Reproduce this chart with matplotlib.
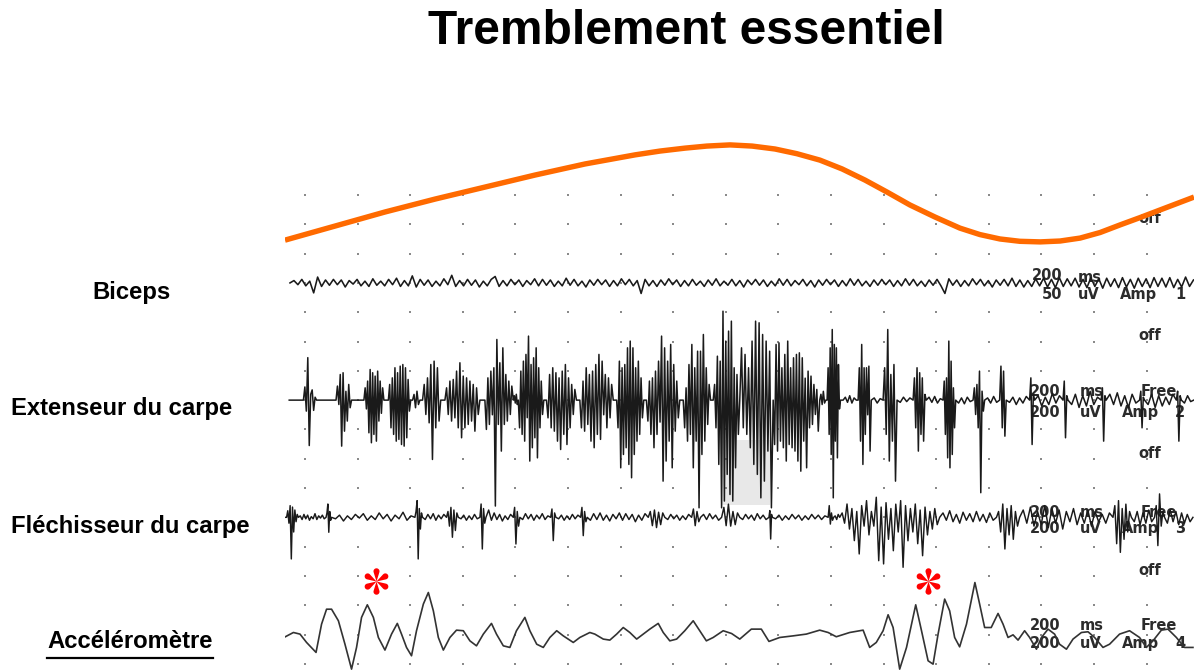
import numpy as np
import matplotlib
matplotlib.use("Agg")
import matplotlib.pyplot as plt
from matplotlib.path import Path
from matplotlib.patches import Rectangle
from matplotlib.lines import Line2D

# ---------------- data (time in ms, amplitude in uV) ----------------
title = "Tremblement essentiel"
channel_labels = ["Biceps", "Extenseur du carpe", "Fléchisseur du carpe", "Accéléromètre"]

# Biceps EMG, 50 uV/div, sampled every 15 ms starting at -57 ms
biceps_t0, biceps_dt = -57, 15
biceps_uv = [0, 4, -3, 6, -5, 3, -17, 10, -6, 5,
             -4, 6, -3, 5, -7, 4, -2, 6, -5, 3,
             -6, 7, -4, 3, -5, 6, -3, 8, -6, 4,
             -5, 12, -7, 6, -4, 5, -6, 3, -5, 7,
             -3, 13, -6, 4, -5, 6, -4, 5, -7, 3,
             -5, 6, 11, -6, 4, -5, 6, -3, 5, -6,
             4, -3, 7, -5, 6, -4, 5, -6, 3, -5,
             8, -4, 6, -5, 3, -7, 5, -4, 6, -3,
             5, -6, 4, -5, 7, -3, 6, -5, 4, -18,
             6, -5, 4, -6, 5, -4, 7, -3, 5, -6,
             4, -5, 6, -4, 3, -6, 5, -4, 7, -5,
             3, -4, 6, -5, 4, -7, 5, -3, 6, -4,
             5, -6, 3, -5, 7, -4, 6, -5, 4, -3,
             6, -5, 4, -7, 5, -4, 6, -3, 5, -6,
             4, -5, 7, -4, 6, -5, 3, -6, 5, -4,
             6, -3, 5, -6, 4, -5, 7, -4, 6, -5,
             3, -6, 5, -4, 6, -5, -18, 7, -4, 5,
             -6, 4, -5, 7, -3, 6, -5, 4, -7, 5,
             -4, 6, -5, 8, -6, 5, -7, 4, -6, 7,
             -5, 8, -7, 6, -8, 9, -6, 7, -5, 8,
             -7, 6, -8, 9, -6, 7, -9, 8, -6, 7,
             -8, 9, -7, 6, -9, 8, -6, 7, -8, 9,
             -6, 8, -7, 9, -8, 6, -7, 10, -6, 5]

# Extensor EMG bursts, 200 uV/div: (start ms, end ms, successive extrema uV)
extensor_span = (-60, 3379)
extensor_bursts = [
    (-6, 44, [90, -75, 290, -310, 40, 70, -70, 20]),
    (118, 177, [96, -30, 175, -314, 187, -212, 60, -143, 107, -52]),
    (224, 300, [84, -60, 130, -223, 209, -291, 187, -234, 164, -280, 198, -143, 130, -90, 84]),
    (317, 402, [107, -189, 152, -234, 221, -280, 187, -268, 232, -303, 243, -314, 221, -257, 141, -75]),
    (409, 437, [39, -52, 61, -30]),
    (447, 516, [107, -98, 152, -155, 243, -405, 266, -189, 221, -143]),
    (532, 665, [84, -98, 130, -143, 141, -121, 198, -189, 255, -257, 164, -189, 152, -166, 130, -143, 107, -212, 84, -98]),
    (684, 792, [-200, 152, -166, 198, -100, 221, -723, 414, -166, 255, -348, 357, -166, 175, -143, 130, -98, 96]),
    (792, 811, [30, -20, 40, -30]),
    (811, 908, [-189, 198, -234, 266, -280, 312, -120, 437, -416, 243, -325, 289, -257, 357, -394, 221, -189, 130, -98]),
    (918, 1032, [-121, 175, -189, 221, -212, 187, -280, 152, -337, 198, -234, 243, -303, 152, -189, 107, -98, 73]),
    (1045, 1172, [-189, 130, -212, 221, -166, 175, -280, 198, -325, 243, -234, 312, -268, 266, -100, 175, -189, 152, -121, 107]),
    (1185, 1288, [-189, 266, -462, 221, -371, 243, -325, 357, -439, 403, -530, 357, -371, 221, -280, 266, -234, 152, -121]),
    (1298, 1425, [-143, 130, -234, 152, -325, 198, -234, 266, -150, 437, -553, 357, -416, 266, -280, 380, -462, 243, -212, 130, -121]),
    (1438, 1542, [-189, 84, -280, 243, -234, 380, -462, 221, -280, 334, -735, 334, -371, 448, -280, 221, -166, 107]),
    (1552, 1653, [107, -189, 300, -439, 266, -735, 607, -689, 403, -507, 471, -644, 539, -689, 221, -462, 175, -234]),
    (1653, 1780, [357, -189, 312, -234, 221, -325, 403, -439, 539, -507, 528, -667, 448, -553, 403, -348, 334, -735]),
    (1780, 1957, [-303, 380, -348, 391, -280, 221, -325, 312, -416, 403, -303, 221, -325, 289, -348, 312, -416, 323, -485, 289, -280, 150, -462, 198, -189, 164, -166, 107, -98, 73, -212]),
    (1957, 1980, [40, -30, 60, -20]),
    (1985, 2036, [221, -234, 357, -371, 482, -667, 380, -280, 357, -394, 243, -60]),
    (2046, 2096, [20, -15, 30, -20, 15]),
    (2103, 2153, [221, -280, 380, -439, 221, -234, 221, -100, 232, -348]),
    (2153, 2198, [15, -20, 10]),
    (2198, 2251, [221, -234, 482, -416, 175, -280, 243, -553]),
    (2251, 2312, [-15, 20, -10, 15]),
    (2312, 2362, [152, -189, 221, -348, 187, -234, 152, -280, 39]),
    (2362, 2426, [20, -15, 25, -20, 10]),
    (2426, 2474, [130, -234, 152, -394, 403, -462, 266, -371, 84, -189]),
    (2474, 2540, [-20, 15, -25, 20, -10]),
    (2540, 2584, [84, -98, 107, -189, 198, -632, 61, -75]),
    (2584, 2641, [15, -20, 25, -15]),
    (2641, 2666, [232, -189, 198, -246]),
    (2666, 2755, [-15, 20, -30, 15, -20, 25]),
    (2755, 2774, [152, -303, 40]),
    (2774, 2882, [30, -40, 20, -30, 45, -20, 30]),
    (2882, 2901, [130, -257, 30]),
    (2901, 3027, [-30, 40, -50, 30, -40, 60, -30, 20]),
    (3027, 3046, [84, -280, 30]),
    (3046, 3173, [40, -30, 50, -40, 30, -50, 40, -20]),
    (3173, 3192, [61, -189, 20]),
    (3192, 3313, [-30, 40, -50, 30, -40, 20, -30, 40]),
    (3313, 3332, [61, -280, 30]),
    (3332, 3379, [-20, 30, -10]),
]

# Flexor EMG, 200 uV/div
flexor_span = (-75, 3376)
flexor_bursts = [
    (-70, -25, [45, -40, 80, -284, 70, -100, 50, -30, 20]),
    (-25, 80, [10, -15, 20, -10, 15, -20, 5, -10, 25, -15, 10, -5, 15, -10]),
    (80, 101, [30, 91, -102, 40, -20]),
    (101, 418, [-10, 15, -25, 10, -15, 20, -5, 25, -20, 10, -15, 30, -10, 20, -25, 15, -10, 35, -20, 10]),
    (418, 447, [40, 114, -284, 60, -80, 30]),
    (447, 538, [-15, 20, -10, 25, -20, 15, -10, 20]),
    (538, 583, [40, -60, 68, -136, 50, -90, 30]),
    (583, 665, [-10, 15, -20, 10, -15, 20, -10]),
    (665, 688, [91, -216, 60, -40]),
    (688, 792, [50, -20, 30, -15, 20, -25, 10, -15, 20]),
    (792, 817, [68, -182, 40, -60]),
    (817, 934, [-15, 25, -10, 20, -20, 15, -10, 25, -15, 10]),
    (934, 954, [57, -159, 30]),
    (954, 1048, [-10, 15, -20, 10, -15, 20, -10, 15]),
    (1048, 1073, [68, -125, 40, -30]),
    (1073, 1305, [-20, 25, -15, 30, -20, 15, -25, 20, -10, 30, -20, 25, -15, 20, -30, 15, -20, 25]),
    (1305, 1368, [40, -57, 50, -70, 35, -50, 30]),
    (1368, 1470, [-15, 20, -10, 15, -20, 10, -15, 20]),
    (1470, 1504, [57, -57, 40, -30]),
    (1504, 1584, [20, -15, 25, -10, 15, -20]),
    (1584, 1653, [68, -57, 90, -60, 40, -50, 30]),
    (1653, 1764, [-15, 20, -10, 15, -20, 25, -10, 15, -15]),
    (1764, 1777, [46, -148, 20]),
    (1777, 1989, [-10, 15, -20, 10, -15, 20, -10, 15, -20, 10, -15, 20, -10, 15, -15, 10]),
    (1989, 2010, [80, -46, 30, -20]),
    (2010, 2033, [10, -15, 20]),
    (2033, 2413, [30, -40, 91, -80, 60, -159, 40, -250, 80, -60, 114, -120, 40, -60, 137, -296, 70, -318, 100, -150,
                  60, -228, 90, -100, 114, -341, 80, -160, 60, -100, 91, -180, 50, -262, 70, -120, 40, -80, 60, -50]),
    (2413, 2629, [30, -20, 45, -30, 20, -40, 35, -20, 25, -30, 40, -25, 20, -35, 30, -20]),
    (2629, 2717, [40, -100, 91, -216, 60, -120, 80, -150, 40, -60]),
    (2717, 3072, [50, -40, 70, -60, 40, -50, 80, -70, 60, -40, 50, -80, 40, -30, 60, -50, 30, -40, 50, -60, 40, -30, 20, -40, 30]),
    (3072, 3142, [80, -180, 114, -239, 60, -150, 90, -100, 40]),
    (3142, 3230, [-30, 40, -50, 30, -40, 50, -30]),
    (3230, 3268, [80, -193, 160, -60, 40]),
    (3268, 3376, [-40, 50, -30, 40, -50, 30, -40, 20, -30]),
]

# Accelerometer, 200 uV/div
accel_t = [-80, -44, -19, 6, 42, 63, 82, 101, 127, 152, 177, 196, 215, 237, 260, 279, 304, 329, 351, 367,
           386, 405, 424, 450, 469, 488, 507, 526, 551, 576, 602, 627, 652, 678, 709, 728, 754, 779, 804, 836,
           855, 881, 906, 931, 957, 982, 1020, 1045, 1083, 1102, 1134, 1159, 1185, 1210, 1235, 1261, 1286, 1311, 1343, 1362,
           1387, 1413, 1444, 1476, 1501, 1526, 1552, 1590, 1622, 1653,
           1697, 1735, 1764, 1805, 1856, 1906, 1957, 1989, 2020, 2071, 2122, 2147, 2172, 2198, 2217, 2236, 2261, 2287, 2306, 2322,
           2344, 2369, 2388, 2407, 2432, 2451, 2470, 2489, 2515, 2547, 2565, 2584, 2609, 2635, 2654, 2673, 2692, 2711, 2736, 2755,
           2781, 2800, 2825, 2850, 2869, 2895, 2920, 2952, 2977, 3002, 3034, 3059, 3097, 3135, 3173, 3199, 3224, 3256, 3281, 3313,
           3344, 3376]
accel_uv = [0, 34, 23, -34, -102, 91, 193, 193, 114, -46, -216, -68, 137, 223, 137, 0, -86, 23, 96, 23,
            -68, -125, 46, 228, 307, 182, 0, -86, 0, 50, 46, -23, -57, 23, 96, 23, -57, -68, 46, 137,
            46, -46, -68, 0, 46, 11, -34, 0, 34, 23, -11, -18, 23, 68, 34, -11, 23, 57, 96, 34,
            -23, -11, 46, 114, 46, -23, 0, 46, 27, -11,
            57, 57, -27, 0, 11, 23, 50, 34, 5, 34, 50, -68, -34, 46, 155, 68, -216, -68, 91, 223,
            46, -159, -182, 23, 262, 182, 0, -64, 91, 375, 228, 68, 68, 164, 91, 0, 18, -18, 46, 0,
            -80, 0, 57, 23, -46, -80, -11, 34, 39, 0, -68, -46, 23, 46, 0, -68, -23, 50, 57, 0,
            -68, -68]

# Movement (orange) curve, in grid divisions below the top dot row
movement_t = [-76, 114, 304, 494, 684, 874, 1065, 1255, 1350, 1445, 1528, 1616, 1700, 1787, 1870, 1958, 2042, 2129,
              2213, 2300, 2395, 2490, 2566, 2642, 2718, 2795, 2871, 2947, 3023, 3099, 3175, 3251, 3380]
movement_div = [1.54, 1.06, 0.58, 0.14, -0.27, -0.68, -1.06, -1.37, -1.50, -1.60, -1.67, -1.71, -1.67, -1.57, -1.41, -1.19, -0.89, -0.51,
                -0.10, 0.34, 0.75, 1.13, 1.35, 1.50, 1.58, 1.60, 1.57, 1.47, 1.28, 1.02, 0.77, 0.51, 0.07]

# Asterisk markers (time ms)
star_t = [270, 2369]

# Channel settings: baseline row (grid divisions from the top dot row), uV per division
base_rows = {"biceps": 3.0, "extensor": 7.0, "flexor": 11.0, "accel": 15.1}
uv_per_div = {"biceps": 50, "extensor": 200, "flexor": 200, "accel": 200}

# ---------------- figure ----------------
W, H = 1194, 670
fig = plt.figure(figsize=(W / 100, H / 100), dpi=100)
fig.patch.set_facecolor("white")
ax = fig.add_axes([285 / W, 0, (W - 285) / W, 1])
ax.set_xlim(-76, 3380)
ax.set_ylim(-16.21, 6.655)
ax.axis("off")

# dot grid (200 ms x 1 div)
gx, gy = np.meshgrid(np.arange(0, 3201, 200), -np.arange(0, 17))
ax.scatter(gx.ravel(), gy.ravel(), s=1.6, color="#8a8a8a", marker="s", linewidths=0, zorder=1)

# grey scan shading
ax.add_patch(Rectangle((1586, -10.58), 182, 2.22, color="#e8e8e8", zorder=0.5, linewidth=0))


def build(span, bursts):
    ts, vs = [span[0]], [0.0]
    for t0, t1, vals in bursts:
        tt = np.linspace(t0, t1, len(vals) + 2)
        ts += [t0] + list(tt[1:-1]) + [t1]
        vs += [0.0] + list(vals) + [0.0]
    ts.append(span[1]); vs.append(0.0)
    return np.array(ts), np.array(vs)


trace_color = "#1a1a1a"
bt = biceps_t0 + biceps_dt * np.arange(len(biceps_uv))
ax.plot(bt, -base_rows["biceps"] + np.array(biceps_uv) / uv_per_div["biceps"],
        color=trace_color, lw=1.15, zorder=3)

et, ev = build(extensor_span, extensor_bursts)
ax.plot(et, -base_rows["extensor"] + ev / uv_per_div["extensor"], color=trace_color, lw=1.1, zorder=3)

ft, fv = build(flexor_span, flexor_bursts)
ax.plot(ft, -base_rows["flexor"] + fv / uv_per_div["flexor"], color=trace_color, lw=1.05, zorder=3)

ax.plot(accel_t, -base_rows["accel"] + np.array(accel_uv) / uv_per_div["accel"],
        color="#333333", lw=1.2, zorder=3)

# orange movement curve
ax.plot(movement_t, -np.array(movement_div), color="#ff6a00", lw=3.9, zorder=5,
        solid_joinstyle="round", solid_capstyle="butt")

# red asterisks (six teardrop petals)
verts, codes = [], []
for k in range(6):
    a = np.pi / 2 + k * np.pi / 3
    ph = np.linspace(-1.9, 1.9, 14)
    px = np.concatenate([[0.0], 0.74 + 0.22 * np.cos(ph), [0.0]])
    py = np.concatenate([[0.0], 0.22 * np.sin(ph), [0.0]])
    rx = px * np.cos(a) - py * np.sin(a)
    ry = px * np.sin(a) + py * np.cos(a)
    verts += list(zip(rx, ry))
    codes += [Path.MOVETO] + [Path.LINETO] * (len(rx) - 2) + [Path.CLOSEPOLY]
star_path = Path(verts, codes)
ax.plot(star_t, [-13.17] * len(star_t), linestyle="none", marker=star_path, markersize=19,
        color="#ff0000", markeredgewidth=0, zorder=6)

# recorder annotations
mono = dict(fontfamily="DejaVu Sans", fontweight="bold", fontsize=10.5, color="#2b2b2b",
            ha="center", va="center", zorder=2)
off_rows = [0.785, 4.78, 8.81, 12.80]
for r in off_rows:
    ax.text(3213, -r, "off", **mono)
# biceps
ax.text(2820, -2.76, "200", **mono)
ax.text(2985, -2.80, "ms", **mono)
ax.text(2840, -3.38, "50", **mono)
ax.text(2980, -3.38, "uV", **mono)
ax.text(3170, -3.40, "Amp", **mono)
ax.text(3327, -3.40, "1", **mono)
# other channels
for r1, r2, n in [(6.72, 7.41, "2"), (10.82, 11.37, "3"), (14.68, 15.29, "4")]:
    ax.text(2813, -r1, "200", **mono)
    ax.text(2992, -r1, "ms", **mono)
    ax.text(3247, -r1, "Free", **mono)
    ax.text(2813, -r2, "200", **mono)
    ax.text(2988, -r2, "uV", **mono)
    ax.text(3175, -r2, "Amp", **mono)
    ax.text(3327, -r2, n, **mono)

# title and labels
lab = dict(fontfamily="Liberation Sans", fontweight="bold", fontsize=17.2, color="black", va="center")
fig.text(686 / W, 1 - 31 / H, title, fontfamily="Liberation Sans", fontweight="bold",
         fontsize=34.5, ha="center", va="center")
fig.text(131 / W, 1 - 293 / H, channel_labels[0], ha="center", **lab)
fig.text(11 / W, 1 - 408 / H, channel_labels[1], ha="left", **lab)
fig.text(11 / W, 1 - 526 / H, channel_labels[2], ha="left", **lab)
acc_txt = fig.text(130 / W, 1 - 641 / H, channel_labels[3], ha="center", **lab)

fig.canvas.draw()
bb = acc_txt.get_window_extent()
fig.add_artist(Line2D([bb.x0 / W, bb.x1 / W], [1 - 658 / H, 1 - 658 / H],
                      transform=fig.transFigure, color="black", lw=1.6))

fig.savefig("out.png", dpi=100, facecolor="white")
